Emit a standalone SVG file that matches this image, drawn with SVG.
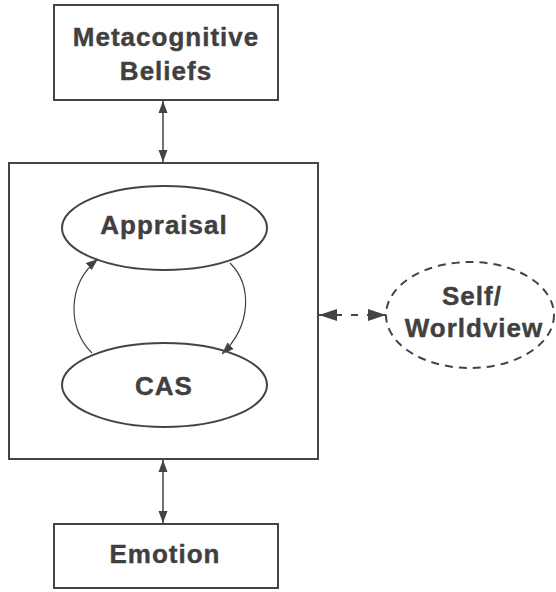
<svg xmlns="http://www.w3.org/2000/svg" width="556" height="592" viewBox="0 0 556 592">
  <style>
    .box { fill: #fff; stroke: #444; stroke-width: 2; }
    .oval { fill: #fff; stroke: #444; stroke-width: 2; }
    .dashed { fill: #fff; stroke: #444; stroke-width: 2; stroke-dasharray: 8 6; }
    .lbl { font-family: "Liberation Sans", Arial, Helvetica, sans-serif; font-weight: bold; font-size: 26px; fill: #404040; stroke: #404040; stroke-width: 0.4; text-anchor: middle; letter-spacing: 1px; }
    .link { fill: none; stroke: #444; stroke-width: 1.5; }
    .loop { fill: none; stroke: #444; stroke-width: 1.2; }
    .dlink { fill: none; stroke: #444; stroke-width: 2; stroke-dasharray: 7 9; }
  </style>
  <defs>
    <marker id="tip" viewBox="0 0 12 10" refX="12" refY="5" markerWidth="12" markerHeight="10" markerUnits="userSpaceOnUse" orient="auto-start-reverse">
      <path d="M0,0.5 L12,5 L0,9.5 Z" fill="#444"/>
    </marker>
    <marker id="tipBig" viewBox="0 0 18 13" refX="18" refY="6.5" markerWidth="18" markerHeight="13" markerUnits="userSpaceOnUse" orient="auto-start-reverse">
      <path d="M0,0.5 L18,6.5 L0,12.5 Z" fill="#444"/>
    </marker>
  </defs>

  <!-- central container -->
  <g id="core">
    <rect class="box" x="9" y="163" width="309" height="296"/>
  </g>

  <g id="metacognitive-beliefs">
    <rect class="box" x="54" y="5" width="224" height="95"/>
    <text class="lbl" x="166" y="46">Metacognitive</text>
    <text class="lbl" x="166" y="80">Beliefs</text>
  </g>

  <g id="appraisal">
    <ellipse class="oval" cx="164.5" cy="228" rx="102.5" ry="42"/>
    <text class="lbl" x="164" y="234">Appraisal</text>
  </g>

  <g id="cas">
    <ellipse class="oval" cx="164.5" cy="385" rx="102.5" ry="42"/>
    <text class="lbl" x="164" y="395">CAS</text>
  </g>

  <g id="self-worldview">
    <ellipse class="dashed" cx="470" cy="315" rx="84" ry="53"/>
    <text class="lbl" x="472" y="305">Self/</text>
    <text class="lbl" x="474" y="337">Worldview</text>
  </g>

  <g id="emotion">
    <rect class="box" x="54" y="524" width="224" height="64"/>
    <text class="lbl" x="165" y="563">Emotion</text>
  </g>

  <!-- connectors -->
  <g id="connectors">
    <line class="link" x1="163" y1="101" x2="163" y2="162" marker-start="url(#tip)" marker-end="url(#tip)"/>
    <line class="link" x1="163" y1="460" x2="163" y2="523" marker-start="url(#tip)" marker-end="url(#tip)"/>
    <line class="dlink" x1="319" y1="315" x2="386" y2="315" marker-start="url(#tipBig)" marker-end="url(#tipBig)"/>
    <path class="loop" d="M92,353 C68,330 66,285 98,259" marker-end="url(#tip)"/>
    <path class="loop" d="M230,263 C252,285 252,325 222,354" marker-end="url(#tip)"/>
  </g>
</svg>
